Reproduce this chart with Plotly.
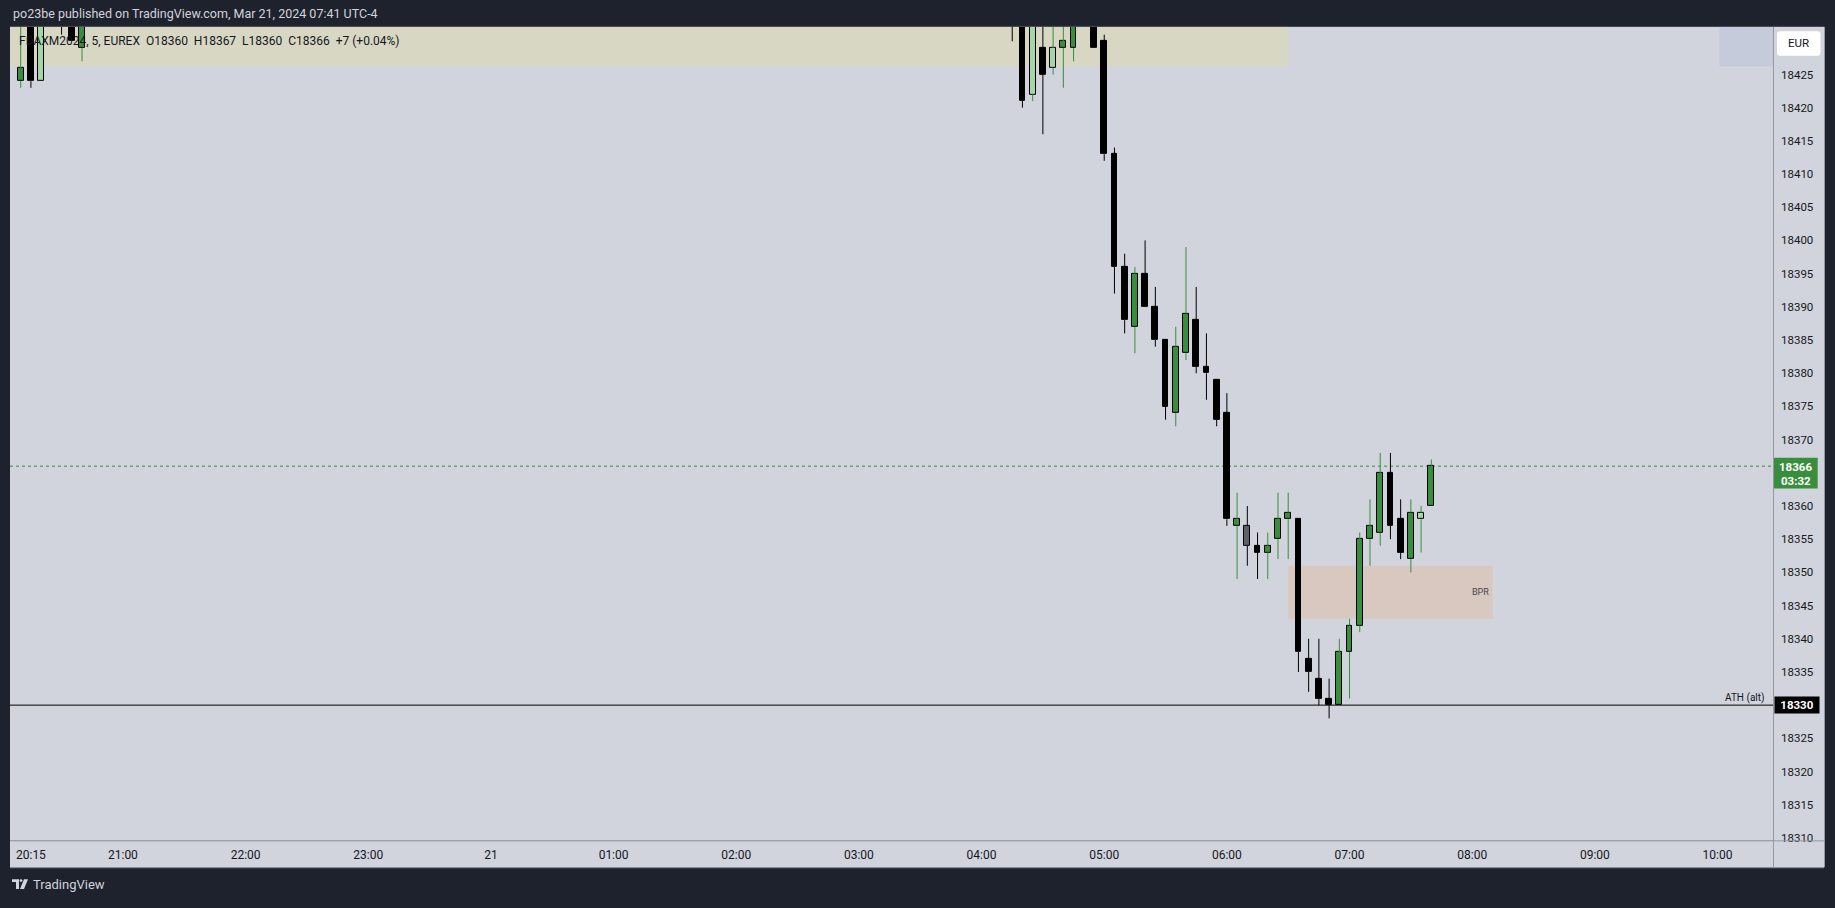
import plotly.graph_objects as go

# ---------------- data (5-minute FDAX candles) ----------------
times = [
    "2024-03-20 20:10", "2024-03-20 20:15", "2024-03-20 20:20", "2024-03-20 20:30",
    "2024-03-20 20:35", "2024-03-20 20:40",
    "2024-03-21 04:15", "2024-03-21 04:20", "2024-03-21 04:25", "2024-03-21 04:30",
    "2024-03-21 04:35", "2024-03-21 04:40", "2024-03-21 04:45", "2024-03-21 04:55",
    "2024-03-21 05:00", "2024-03-21 05:05", "2024-03-21 05:10", "2024-03-21 05:15",
    "2024-03-21 05:20", "2024-03-21 05:25", "2024-03-21 05:30", "2024-03-21 05:35",
    "2024-03-21 05:40", "2024-03-21 05:45", "2024-03-21 05:50", "2024-03-21 05:55",
    "2024-03-21 06:00", "2024-03-21 06:05", "2024-03-21 06:10", "2024-03-21 06:15",
    "2024-03-21 06:20", "2024-03-21 06:25", "2024-03-21 06:30", "2024-03-21 06:35",
    "2024-03-21 06:40", "2024-03-21 06:45", "2024-03-21 06:50", "2024-03-21 06:55",
    "2024-03-21 07:00", "2024-03-21 07:05", "2024-03-21 07:10", "2024-03-21 07:15",
    "2024-03-21 07:20", "2024-03-21 07:25", "2024-03-21 07:30", "2024-03-21 07:35",
    "2024-03-21 07:40",
]
opens = [
    18424, 18437, 18424, 18441, 18437, 18429,
    18440, 18436, 18422, 18429, 18426, 18429, 18429, 18438,
    18430, 18413, 18396, 18387, 18395, 18390, 18385, 18374,
    18383, 18388, 18381, 18379, 18374, 18357, 18357, 18354,
    18353, 18355, 18358, 18358, 18337, 18334, 18331, 18330,
    18338, 18342, 18355, 18356, 18365, 18358, 18352, 18358,
    18360,
]
highs = [
    18436, 18439, 18440, 18443, 18439, 18438,
    18442, 18438, 18436, 18434, 18433, 18434, 18438, 18440,
    18431, 18414, 18398, 18396, 18400, 18393, 18385, 18387,
    18399, 18393, 18386, 18379, 18377, 18362, 18360, 18356,
    18356, 18362, 18362, 18358, 18340, 18340, 18334, 18340,
    18343, 18356, 18361, 18368, 18368, 18361, 18361, 18360,
    18367,
]
lows = [
    18423, 18423, 18424, 18431, 18430, 18427,
    18430, 18420, 18421, 18416, 18425, 18423, 18427, 18429,
    18412, 18392, 18386, 18383, 18390, 18384, 18373, 18372,
    18382, 18380, 18376, 18372, 18357, 18349, 18351, 18349,
    18349, 18352, 18352, 18335, 18332, 18330, 18328, 18330,
    18331, 18341, 18351, 18354, 18355, 18352, 18350, 18353,
    18360,
]
closes = [
    18426, 18424, 18437, 18435, 18430, 18435,
    18435, 18421, 18434, 18425, 18429, 18430, 18436, 18429,
    18413, 18396, 18388, 18395, 18390, 18385, 18375, 18384,
    18389, 18381, 18380, 18373, 18358, 18358, 18354, 18353,
    18354, 18358, 18359, 18338, 18335, 18331, 18330, 18338,
    18342, 18355, 18357, 18365, 18357, 18353, 18359, 18359,
    18366,
]
styles = [
    "up", "down", "light", "down", "down", "up",
    "down", "down", "light", "down", "light", "up", "up", "down",
    "down", "down", "down", "up", "down", "down", "down", "up",
    "up", "down", "down", "down", "down", "up", "gray", "down",
    "up", "up", "up", "down", "down", "down", "down", "up",
    "up", "up", "up", "up", "down", "down", "up", "light",
    "up",
]

# price-axis labels visible in the chart (18330 and 18365 sit under the price tags)
price_ticks = [18310, 18315, 18320, 18325, 18335, 18340, 18345, 18350, 18355,
               18360, 18370, 18375, 18380, 18385, 18390, 18395, 18400, 18405,
               18410, 18415, 18420, 18425]
time_ticks = ["2024-03-20 20:15", "2024-03-20 21:00", "2024-03-20 22:00", "2024-03-20 23:00",
              "2024-03-21 00:00", "2024-03-21 01:00", "2024-03-21 02:00", "2024-03-21 03:00",
              "2024-03-21 04:00", "2024-03-21 05:00", "2024-03-21 06:00", "2024-03-21 07:00",
              "2024-03-21 08:00", "2024-03-21 09:00", "2024-03-21 10:00"]
time_labels = ["20:15", "21:00", "22:00", "23:00", "21", "01:00", "02:00", "03:00",
               "04:00", "05:00", "06:00", "07:00", "08:00", "09:00", "10:00"]

# drawn zones / levels
top_zone = ["2024-03-20 19:00", "2024-03-21 06:30", 18426.2, 18460]
blue_zone = ["2024-03-21 10:01", "2024-03-21 11:00", 18426.2, 18460]
bpr_zone = ["2024-03-21 06:30", "2024-03-21 08:10", 18343, 18351]
ath_level = 18330
last_price = 18366
countdown = "03:32"

# ---------------- styling ----------------
W, H = 1835, 908
DARK = "#1e222d"
LIGHT = "#d1d4dc"
TXT = "#131722"
GREEN = "#388e3c"
LGREEN = "#a5d6a7"
GRAY = "#5d606b"
SEP = "#9598a1"
FONT = "Roboto"

fill_map = {"up": GREEN, "down": "#000000", "light": LGREEN, "gray": GRAY}
wick_map = {"up": GREEN, "down": "#000000", "light": GREEN, "gray": "#000000"}


def px(x):
    return x / W


def py(y):
    return 1 - y / H


def rounded_rect(x0, y0, x1, y1, r):
    return (f"M {px(x0 + r)},{py(y0)} L {px(x1 - r)},{py(y0)} Q {px(x1)},{py(y0)} {px(x1)},{py(y0 + r)} "
            f"L {px(x1)},{py(y1 - r)} Q {px(x1)},{py(y1)} {px(x1 - r)},{py(y1)} "
            f"L {px(x0 + r)},{py(y1)} Q {px(x0)},{py(y1)} {px(x0)},{py(y1 - r)} "
            f"L {px(x0)},{py(y0 + r)} Q {px(x0)},{py(y0)} {px(x0 + r)},{py(y0)} Z")


fig = go.Figure()

# wicks (upper and lower parts only, so they don't cross the bodies)
for wc in ["#000000", GREEN]:
    xs, ys = [], []
    for t, o, h, l, c, s in zip(times, opens, highs, lows, closes, styles):
        if wick_map[s] != wc:
            continue
        top, bot = max(o, c), min(o, c)
        if h > top:
            xs += [t, t, None]
            ys += [top, h, None]
        if l < bot:
            xs += [t, t, None]
            ys += [bot, l, None]
    fig.add_trace(go.Scatter(x=xs, y=ys, mode="lines", line=dict(color=wc, width=1),
                             hoverinfo="skip", showlegend=False))

# bodies
fig.add_trace(go.Bar(
    x=times,
    y=[abs(c - o) for o, c in zip(opens, closes)],
    base=[min(o, c) for o, c in zip(opens, closes)],
    width=170000,
    marker=dict(color=[fill_map[s] for s in styles], line=dict(color="#000000", width=1)),
    showlegend=False,
    hovertext=[f"O{o} H{h} L{l} C{c}" for o, h, l, c in zip(opens, highs, lows, closes)],
    hoverinfo="text",
))

shapes = [
    # axis strips
    dict(type="rect", xref="paper", yref="paper", x0=px(1773), x1=px(1824), y0=py(872), y1=py(27),
         fillcolor=LIGHT, line=dict(width=0), layer="below"),
    dict(type="rect", xref="paper", yref="paper", x0=px(10), x1=px(1824), y0=py(872), y1=py(845),
         fillcolor=LIGHT, line=dict(width=0), layer="below"),
    # zones
    dict(type="rect", xref="x", yref="y", x0=top_zone[0], x1=top_zone[1], y0=top_zone[2], y1=top_zone[3],
         fillcolor="#d8d7c4", line=dict(width=0), layer="below"),
    dict(type="rect", xref="x", yref="y", x0=blue_zone[0], x1=blue_zone[1], y0=blue_zone[2], y1=blue_zone[3],
         fillcolor="#c5cbdb", line=dict(width=0), layer="below"),
    dict(type="rect", xref="x", yref="y", x0=bpr_zone[0], x1=bpr_zone[1], y0=bpr_zone[2], y1=bpr_zone[3],
         fillcolor="#d8c8c0", line=dict(width=0), layer="below"),
    # levels
    dict(type="line", xref="x domain", yref="y", x0=0, x1=1, y0=last_price, y1=last_price,
         line=dict(color=GREEN, width=1, dash="dot"), layer="below"),
    dict(type="line", xref="x domain", yref="y", x0=0, x1=1, y0=ath_level, y1=ath_level,
         line=dict(color="#000000", width=1), layer="above"),
    # green last-price tag on the price axis
    dict(type="rect", xref="paper", yref="y", x0=px(1773.5), x1=px(1817.7),
         ysizemode="pixel", yanchor=last_price, y0=-22.4, y1=8.3,
         fillcolor=GREEN, line=dict(width=0), layer="above"),
    # EUR button (rounded)
    dict(type="path", xref="paper", yref="paper", path=rounded_rect(1777, 31.3, 1820.5, 56, 3),
         fillcolor="#ffffff", line=dict(width=0), layer="above"),
    # separators
    dict(type="line", xref="paper", yref="paper", x0=px(1773.5), x1=px(1773.5), y0=py(872), y1=py(27),
         line=dict(color=SEP, width=1), layer="above"),
    dict(type="line", xref="paper", yref="paper", x0=px(10), x1=px(1824), y0=py(845.5), y1=py(845.5),
         line=dict(color=SEP, width=1), layer="above"),
    dict(type="line", xref="paper", yref="paper", x0=px(10), x1=px(1824), y0=py(872.5), y1=py(872.5),
         line=dict(color=SEP, width=1), layer="above"),
    dict(type="line", xref="paper", yref="paper", x0=px(1824.5), x1=px(1824.5), y0=py(872), y1=py(27),
         line=dict(color=SEP, width=1), layer="above"),
    dict(type="line", xref="paper", yref="paper", x0=px(10), x1=px(1824), y0=py(26.5), y1=py(26.5),
         line=dict(color="#434651", width=1), layer="above"),
    # TradingView logo
    dict(type="path", xref="paper", yref="paper",
         path=f"M {px(12)},{py(884)} L {px(19)},{py(884)} L {px(19)},{py(894)} L {px(16)},{py(894)} "
              f"L {px(16)},{py(887)} L {px(12)},{py(887)} Z",
         fillcolor="#d1d4dc", line=dict(width=0), layer="above"),
    dict(type="circle", xref="paper", yref="paper", x0=px(19.6), x1=px(22.4), y0=py(887), y1=py(884),
         fillcolor="#d1d4dc", line=dict(width=0), layer="above"),
    dict(type="path", xref="paper", yref="paper",
         path=f"M {px(24)},{py(884)} L {px(28)},{py(884)} L {px(24)},{py(894)} L {px(20)},{py(894)} Z",
         fillcolor="#d1d4dc", line=dict(width=0), layer="above"),
]

nb = "\u00a0"
annotations = [
    dict(text="po23be published on TradingView.com, Mar 21, 2024 07:41 UTC-4", xref="paper", yref="paper",
         x=px(11), y=py(14), xanchor="left", yanchor="middle", showarrow=False,
         font=dict(family=FONT, size=12.5, color="#d1d4dc")),
    dict(text=f"FDAXM2024, 5, EUREX{nb}{nb}O18360{nb}{nb}H18367{nb}{nb}L18360{nb}{nb}C18366{nb}{nb}+7 (+0.04%)",
         xref="paper", yref="paper", x=px(17), y=py(41), xanchor="left", yanchor="middle", showarrow=False,
         font=dict(family=FONT, size=12, color=TXT)),
    dict(text="TradingView", xref="paper", yref="paper", x=px(31), y=py(889.5), xanchor="left",
         yanchor="middle", showarrow=False, font=dict(family=FONT, size=13, color="#d1d4dc")),
    dict(text="EUR", xref="paper", yref="paper", x=px(1798.7), y=py(43.7), xanchor="center",
         yanchor="middle", showarrow=False,
         font=dict(family=FONT, size=11.5, color=TXT)),
    dict(text=f"<b>{last_price}</b>", xref="paper", yref="y", x=px(1795.6), y=last_price,
         xanchor="center", yanchor="middle", yshift=-1, showarrow=False,
         font=dict(family=FONT, size=11.5, color="#ffffff")),
    dict(text=f"<b>{countdown}</b>", xref="paper", yref="y", x=px(1795.6), y=last_price,
         xanchor="center", yanchor="middle", yshift=-14.5, showarrow=False,
         font=dict(family=FONT, size=11.5, color="#ffffff")),
    dict(text=f"<b>{ath_level}</b>", xref="paper", yref="y", x=px(1773.5), y=ath_level,
         xanchor="left", yanchor="middle", showarrow=False, bgcolor="#000000", width=42, height=14,
         borderpad=1, font=dict(family=FONT, size=11.5, color="#ffffff")),
    dict(text="ATH (alt)", xref="paper", yref="y", x=px(1767), y=ath_level, xanchor="right",
         yanchor="bottom", yshift=-1, showarrow=False, font=dict(family=FONT, size=10, color=TXT)),
    dict(text="BPR", xref="x", yref="y", x=bpr_zone[1], y=(bpr_zone[2] + bpr_zone[3]) / 2,
         xanchor="right", yanchor="middle", xshift=-2, showarrow=False,
         font=dict(family=FONT, size=9, color="#434651")),
]

fig.update_layout(
    width=W, height=H, autosize=False,
    margin=dict(l=0, r=0, t=0, b=0, pad=0),
    paper_bgcolor=DARK, plot_bgcolor=LIGHT,
    showlegend=False, barmode="overlay", bargap=0,
    shapes=shapes, annotations=annotations,
    xaxis=dict(type="date", domain=[px(10), px(1773)],
               range=["2024-03-20 20:04:46", "2024-03-21 10:27:08"],
               showgrid=False, zeroline=False, showline=False, ticks="",
               tickvals=time_ticks, ticktext=time_labels, tickangle=0,
               tickfont=dict(family=FONT, size=12, color=TXT), ticklabelstandoff=6,
               fixedrange=True, rangeslider=dict(visible=False)),
    yaxis=dict(domain=[py(845), py(27)], range=[18309.63, 18432.18], side="right",
               showgrid=False, zeroline=False, showline=False, ticks="",
               tickvals=price_ticks, ticktext=[str(v) for v in price_ticks],
               tickfont=dict(family=FONT, size=11.5, color=TXT), ticklabelstandoff=7,
               fixedrange=True),
)

fig.write_html("out.html", config={"displayModeBar": False},
               post_script="document.body.style.margin='0';document.body.style.overflow='hidden';")
